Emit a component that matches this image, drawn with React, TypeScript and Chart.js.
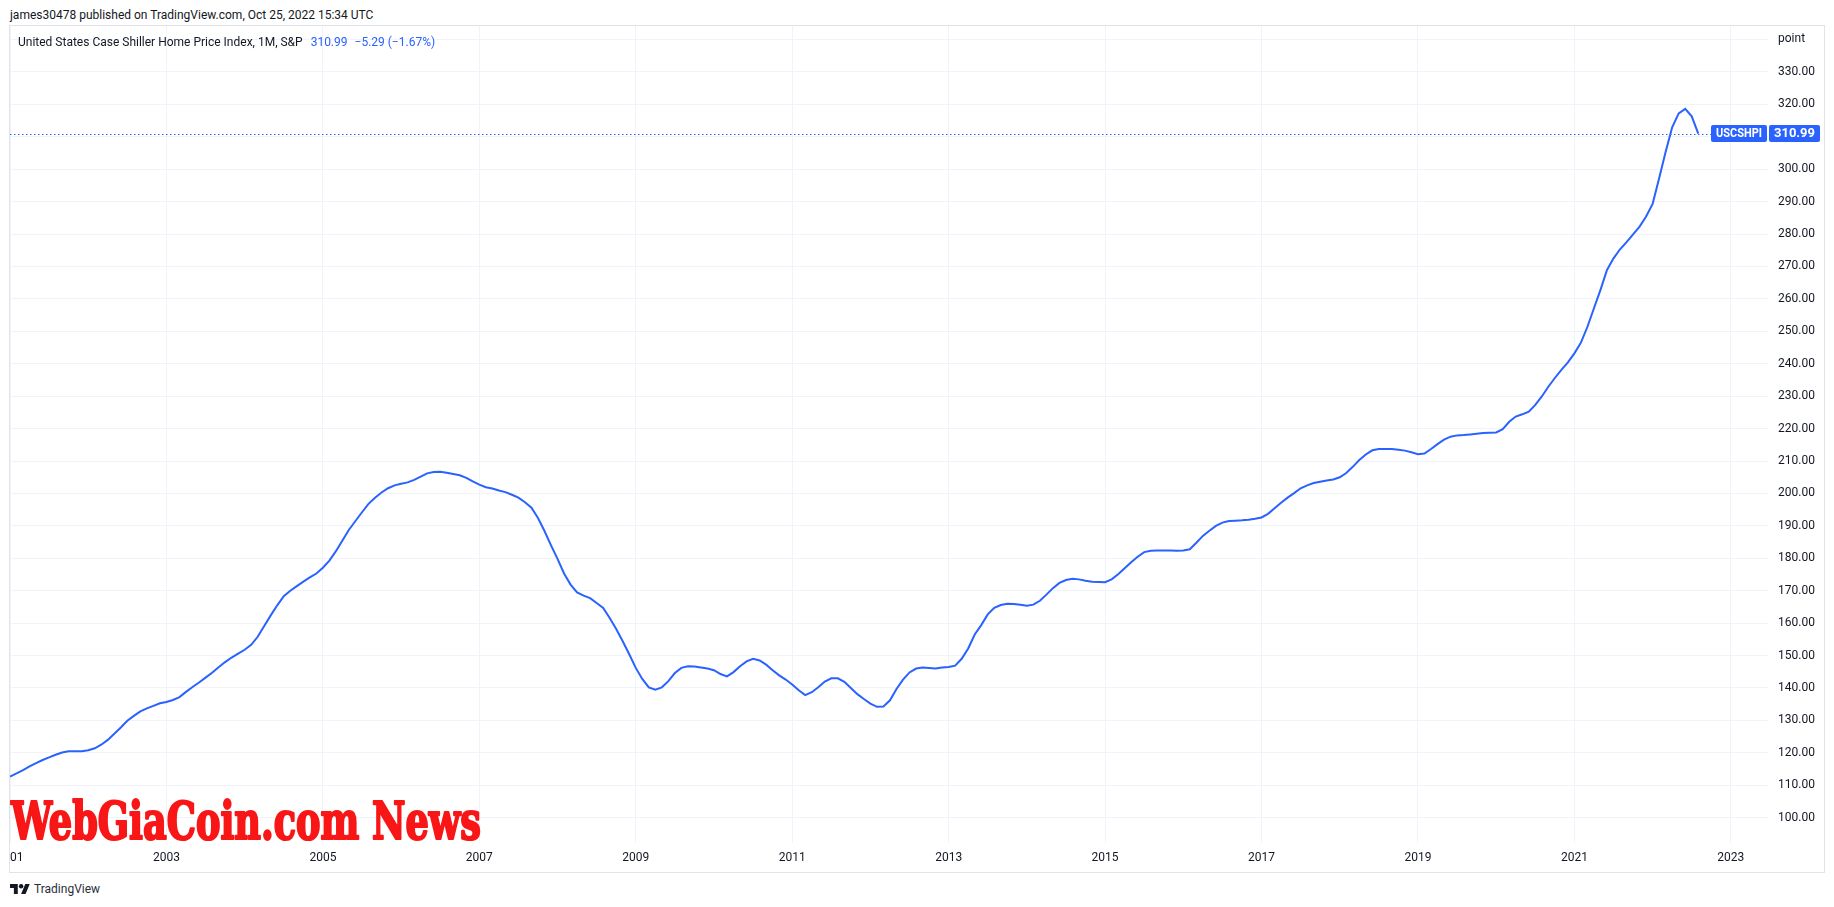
import React, { useEffect, useRef } from "react";
import { Chart, registerables } from "chart.js";

Chart.register(...registerables);

// ---------- data ----------
const headerText = "james30478 published on TradingView.com, Oct 25, 2022 15:34 UTC";
const seriesTitle = "United States Case Shiller Home Price Index, 1M, S&P";
const seriesSymbol = "USCSHPI";
const lastValueText = "310.99";
const lastChangeText = "\u22125.29 (\u22121.67%)";
const watermarkText = "WebGiaCoin.com News";
const axisUnitLabel = "point";

// month index 0 = Jan 2001
const yearTickMonths = [0, 24, 48, 72, 96, 120, 144, 168, 192, 216, 240, 264];
const yearTickLabels = ["2001", "2003", "2005", "2007", "2009", "2011", "2013", "2015", "2017", "2019", "2021", "2023"];
const priceTicks = [100, 110, 120, 130, 140, 150, 160, 170, 180, 190, 200, 210, 220, 230, 240, 250, 260, 270, 280, 290, 300, 310, 320, 330, 340];

// monthly index values, Jan 2001 .. Aug 2022
const indexValues = [
  112.7, 113.7, 114.7, 115.8, 116.8, 117.8, 118.6, 119.4, 120.1, 120.5, 120.5, 120.5, // 2001
  120.8, 121.4, 122.5, 124.0, 125.9, 127.8, 129.9, 131.4, 132.8, 133.7, 134.5, 135.3, // 2002
  135.7, 136.3, 137.2, 138.8, 140.3, 141.7, 143.2, 144.7, 146.4, 148.0, 149.4, 150.6, // 2003
  151.8, 153.3, 155.8, 159.1, 162.4, 165.5, 168.3, 170.0, 171.4, 172.8, 174.1, 175.3, // 2004
  177.1, 179.3, 182.2, 185.5, 188.8, 191.5, 194.2, 196.8, 198.7, 200.3, 201.6, 202.5, // 2005
  203.0, 203.4, 204.2, 205.2, 206.2, 206.6, 206.7, 206.4, 206.0, 205.6, 204.8, 203.7, // 2006
  202.7, 201.9, 201.5, 200.9, 200.4, 199.6, 198.7, 197.3, 195.6, 192.4, 188.4, 184.0, // 2007
  179.8, 175.3, 171.9, 169.5, 168.5, 167.7, 166.2, 164.7, 161.6, 158.2, 154.4, 150.4, // 2008
  146.2, 142.8, 140.2, 139.5, 140.2, 142.1, 144.6, 146.2, 146.7, 146.6, 146.3, 146.0, // 2009
  145.5, 144.3, 143.6, 144.9, 146.7, 148.2, 149.0, 148.5, 147.2, 145.5, 143.9, 142.6, // 2010
  141.1, 139.3, 137.8, 138.7, 140.2, 142.0, 143.0, 143.0, 141.9, 140.0, 138.1, 136.6, // 2011
  135.2, 134.2, 134.3, 136.2, 139.7, 142.6, 144.8, 146.0, 146.3, 146.2, 146.0, 146.3, // 2012
  146.5, 146.9, 149.0, 152.2, 156.5, 159.4, 162.7, 164.7, 165.6, 166.0, 165.9, 165.7, // 2013
  165.4, 165.7, 166.9, 168.8, 170.8, 172.4, 173.3, 173.7, 173.5, 173.1, 172.8, 172.7, // 2014
  172.6, 173.5, 175.1, 176.9, 178.8, 180.5, 181.9, 182.3, 182.4, 182.4, 182.4, 182.3, // 2015
  182.4, 182.8, 184.8, 186.9, 188.5, 190.0, 191.0, 191.5, 191.6, 191.7, 191.9, 192.2, // 2016
  192.6, 193.7, 195.4, 197.1, 198.7, 200.1, 201.6, 202.5, 203.2, 203.6, 204.0, 204.3, // 2017
  205.0, 206.3, 208.2, 210.3, 212.0, 213.3, 213.7, 213.7, 213.7, 213.5, 213.2, 212.7, // 2018
  212.1, 212.3, 213.7, 215.2, 216.6, 217.5, 217.9, 218.0, 218.2, 218.4, 218.6, 218.7, // 2019
  218.8, 219.8, 222.1, 223.7, 224.4, 225.2, 227.3, 229.9, 232.9, 235.6, 238.1, 240.4, // 2020
  243.2, 246.5, 251.4, 257.1, 262.8, 268.9, 272.5, 275.3, 277.5, 279.9, 282.3, 285.4, // 2021
  289.3, 297.2, 305.4, 312.9, 317.2, 318.6, 316.28, 310.99, // 2022
];

// ---------- style ----------
const BLUE = "#2962ff";
const TEXT = "#131722";
const GRID = "#f0f3fa";
const FRAME = "#e0e3eb";
const FONT = "Roboto, 'Noto Sans', sans-serif";

function zeroPadding(s: any) {
  s.paddingLeft = 0;
  s.paddingRight = 0;
  s.paddingTop = 0;
  s.paddingBottom = 0;
}

export default function App() {
  const canvasRef = useRef<HTMLCanvasElement | null>(null);

  useEffect(() => {
    const canvas = canvasRef.current;
    if (!canvas) return;
    const lastValue = indexValues[indexValues.length - 1];

    const overlay = {
      id: "tvOverlay",
      beforeDatasetsDraw(chart: any) {
        const { ctx, chartArea, scales } = chart;
        const y = Math.round(scales.y.getPixelForValue(lastValue)) + 0.5;
        ctx.save();
        ctx.strokeStyle = BLUE;
        ctx.lineWidth = 1;
        ctx.setLineDash([1.5, 2.5]);
        ctx.beginPath();
        ctx.moveTo(chartArea.left, y);
        ctx.lineTo(chartArea.right - 57, y);
        ctx.stroke();
        ctx.restore();
      },
      afterDraw(chart: any) {
        const { ctx, chartArea, scales } = chart;
        ctx.save();
        // watermark
        ctx.fillStyle = "#f81616";
        ctx.strokeStyle = "#f81616";
        ctx.lineWidth = 2.2;
        ctx.lineJoin = "round";
        ctx.font = "bold 52px 'DejaVu Serif Condensed', 'DejaVu Serif', serif";
        ctx.textAlign = "left";
        ctx.textBaseline = "alphabetic";
        ctx.fillText(watermarkText, chartArea.left + 1, chartArea.bottom - 4, 470);
        ctx.strokeText(watermarkText, chartArea.left + 1, chartArea.bottom - 4, 470);

        // last price label
        const yc = scales.y.getPixelForValue(lastValue);
        const top = Math.round(yc - 8.5);
        const h = 17;
        const x1 = chartArea.right - 57;
        const w1 = 56;
        const x2 = chartArea.right + 1;
        const w2 = 51;
        ctx.fillStyle = BLUE;
        ctx.beginPath();
        (ctx as any).roundRect(x1, top, w1, h, 2);
        ctx.fill();
        ctx.beginPath();
        (ctx as any).roundRect(x2, top, w2, h, 2);
        ctx.fill();
        ctx.fillStyle = "#ffffff";
        ctx.textAlign = "center";
        ctx.textBaseline = "middle";
        ctx.font = `bold 12px ${FONT}`;
        ctx.fillText(seriesSymbol, x1 + w1 / 2, top + h / 2 + 0.5, 46);
        ctx.font = `bold 13px ${FONT}`;
        ctx.fillText(lastValueText, x2 + w2 / 2, top + h / 2 + 0.5, 44);
        ctx.restore();
      },
    };

    const chart = new Chart(canvas, {
      type: "line",
      data: {
        datasets: [
          {
            label: seriesSymbol,
            data: indexValues.map((v, i) => ({ x: i, y: v })),
            borderColor: BLUE,
            borderWidth: 2,
            pointRadius: 0,
            tension: 0,
            fill: false,
          },
        ],
      },
      options: {
        animation: false,
        responsive: true,
        maintainAspectRatio: false,
        devicePixelRatio: 1,
        events: [],
        layout: { padding: 0, autoPadding: false },
        plugins: { legend: { display: false }, tooltip: { enabled: false } },
        scales: {
          x: {
            type: "linear",
            min: 0,
            max: 269.7,
            grid: { color: GRID, drawTicks: false, lineWidth: 1 },
            border: { display: false },
            afterBuildTicks: (s: any) => {
              s.ticks = yearTickMonths.map((v) => ({ value: v }));
            },
            afterFit: (s: any) => {
              s.height = 29;
              zeroPadding(s);
            },
            ticks: {
              autoSkip: false,
              maxRotation: 0,
              padding: 8,
              color: TEXT,
              font: { family: FONT, size: 12 },
              callback: (v: any) => {
                const k = yearTickMonths.indexOf(Number(v));
                return k >= 0 ? yearTickLabels[k] : "";
              },
            },
          },
          y: {
            type: "linear",
            position: "right",
            min: 92.2,
            max: 344.15,
            grid: { color: GRID, drawTicks: false, lineWidth: 1 },
            border: { display: false },
            afterBuildTicks: (s: any) => {
              s.ticks = priceTicks.map((v) => ({ value: v }));
            },
            afterFit: (s: any) => {
              s.width = 56;
              zeroPadding(s);
            },
            ticks: {
              padding: 10,
              color: TEXT,
              font: { family: FONT, size: 12 },
              callback: (v: any) => (Number(v) === 340 ? axisUnitLabel : Number(v).toFixed(2)),
            },
          },
        },
      },
      plugins: [overlay],
    } as any);

    return () => chart.destroy();
  }, []);

  return (
    <div
      style={{
        position: "fixed",
        left: 0,
        top: 0,
        width: 1834,
        height: 907,
        background: "#ffffff",
        fontFamily: FONT,
        color: TEXT,
        overflow: "hidden",
      }}
    >
      <div style={{ position: "absolute", left: 10, top: 7, fontSize: 12, lineHeight: "16px", whiteSpace: "nowrap" }}>
        {headerText}
      </div>
      <div style={{ position: "absolute", left: 10, top: 26, width: 1814, height: 846 }}>
        <canvas ref={canvasRef} />
      </div>
      <div
        style={{
          position: "absolute",
          left: 9,
          top: 25,
          width: 1816,
          height: 848,
          border: `1px solid ${FRAME}`,
          boxSizing: "border-box",
          pointerEvents: "none",
        }}
      />
      <div style={{ position: "absolute", left: 18, top: 34, fontSize: 12, lineHeight: "16px", whiteSpace: "nowrap" }}>
        <span style={{ color: TEXT }}>{seriesTitle}</span>
        <span style={{ color: BLUE, marginLeft: 8 }}>{lastValueText}</span>
        <span style={{ color: BLUE, marginLeft: 7 }}>{lastChangeText}</span>
      </div>
      <div style={{ position: "absolute", left: 10, top: 881, height: 16, display: "flex", alignItems: "center" }}>
        <svg width="20" height="10" viewBox="0 4 36 18" preserveAspectRatio="none">
          <path d="M14 22H7V11H0V4h14v18zM28 22h-8l7.5-18h8L28 22z" fill={TEXT} />
          <circle cx="20" cy="8" r="4" fill={TEXT} />
        </svg>
        <span style={{ marginLeft: 4, fontSize: 12, color: "#2a2e39" }}>TradingView</span>
      </div>
    </div>
  );
}
